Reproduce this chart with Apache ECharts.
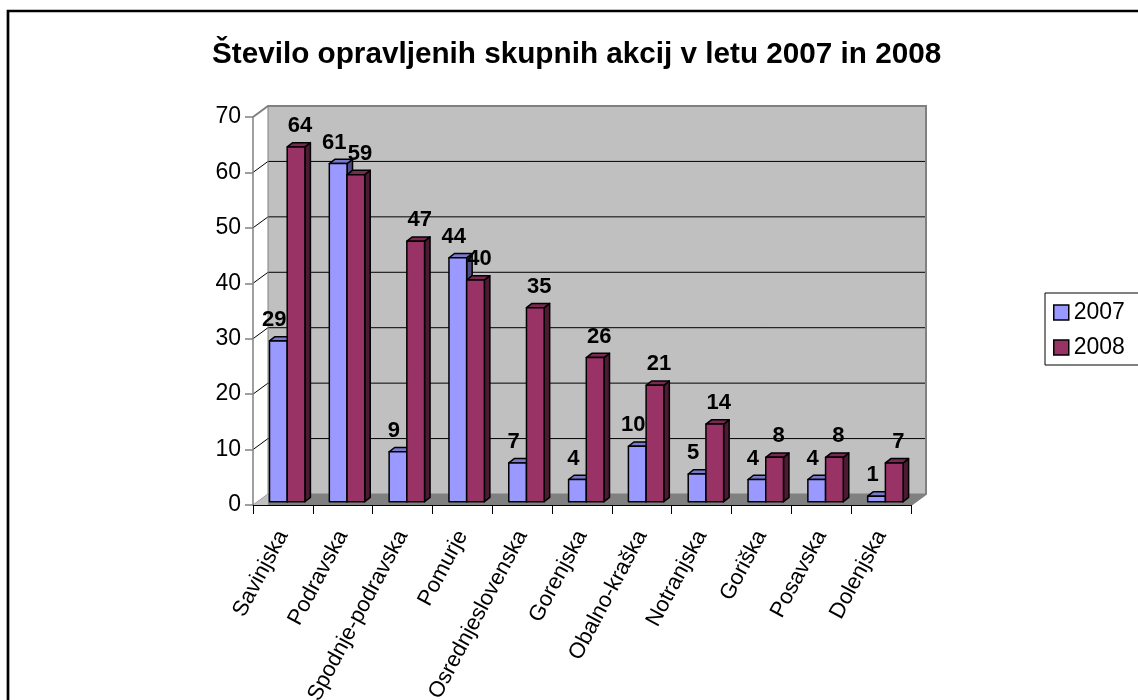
<!DOCTYPE html>
<html>
<head>
<meta charset="utf-8">
<script src="https://cdn.jsdelivr.net/npm/echarts@6/dist/echarts.min.js"></script>
<style>
html,body{margin:0;padding:0;background:#fff;}
#chart{width:1138px;height:700px;}
</style>
</head>
<body>
<div id="chart"></div>
<script>
const categories = ['Savinjska','Podravska','Spodnje-podravska','Pomurje','Osrednjeslovenska','Gorenjska','Obalno-kraška','Notranjska','Goriška','Posavska','Dolenjska'];
const values2007 = [29, 61, 9, 44, 7, 4, 10, 5, 4, 4, 1];
const values2008 = [64, 59, 47, 40, 35, 26, 21, 14, 8, 8, 7];
const seriesNames = ['2007', '2008'];
const yTicks = [0, 10, 20, 30, 40, 50, 60, 70];

const FONT = '"Liberation Sans", Arial, sans-serif';
const WALL = {x: 15, y: -11};
const BAR_OFF = {x: 4.3, y: -3.3};
const BAR_DEPTH = {x: 5.5, y: -4.3};
const faceColors = [
  {front: '#9999FF', side: '#4C4C80', top: '#7A7ACC'},
  {front: '#993366', side: '#4D1A33', top: '#7A2952'}
];

function barRender(si) {
  return function (params, api) {
    const idx = api.value(0), val = api.value(1);
    const base = api.coord([idx, 0]);
    const topP = api.coord([idx, val]);
    const cw = api.size([1, 0])[0];
    const bw = cw * 0.296;
    const x0 = base[0] + BAR_OFF.x - (si === 0 ? bw : 0);
    const y0 = base[1] + BAR_OFF.y;
    const y1 = topP[1] + BAR_OFF.y;
    const dx = BAR_DEPTH.x, dy = BAR_DEPTH.y;
    const c = faceColors[si];
    const stroke = {stroke: '#000', lineWidth: 1.5, lineJoin: 'round'};
    return {
      type: 'group',
      children: [
        {type: 'polygon', shape: {points: [[x0 + bw, y1], [x0 + bw + dx, y1 + dy], [x0 + bw + dx, y0 + dy], [x0 + bw, y0]]},
          style: Object.assign({fill: c.side}, stroke)},
        {type: 'polygon', shape: {points: [[x0, y1], [x0 + dx, y1 + dy], [x0 + bw + dx, y1 + dy], [x0 + bw, y1]]},
          style: Object.assign({fill: c.top}, stroke)},
        {type: 'rect', shape: {x: x0, y: y1, width: bw, height: y0 - y1},
          style: Object.assign({fill: c.front}, stroke)},
        {type: 'text', x: x0 + bw / 2 + (si === 0 ? -4 : 4), y: y1 - 21,
          style: {text: String(val), fill: '#000', font: 'bold 22px ' + FONT, align: 'center', verticalAlign: 'middle'}}
      ]
    };
  };
}

function wallRender(params, api) {
  const n = categories.length;
  const cw = api.size([1, 0])[0];
  const left = api.coord([0, 0])[0] - cw / 2;
  const right = api.coord([n - 1, 0])[0] + cw / 2;
  const yMin = yTicks[0], yMax = yTicks[yTicks.length - 1];
  const y0 = api.coord([0, yMin])[1];
  const yT = api.coord([0, yMax])[1];
  const bl = left + WALL.x, br = right + WALL.x;
  const children = [];
  children.push({type: 'rect', shape: {x: bl, y: yT + WALL.y, width: br - bl, height: y0 - yT},
    style: {fill: '#C0C0C0', stroke: 'none'}});
  children.push({type: 'polygon', shape: {points: [[left, y0], [right, y0], [br, y0 + WALL.y], [bl, y0 + WALL.y]]},
    style: {fill: '#808080', stroke: '#808080', lineWidth: 1}});
  children.push({type: 'polygon', shape: {points: [[left, y0], [bl, y0 + WALL.y], [bl, y0]]},
    style: {fill: '#C0C0C0', stroke: 'none'}});
  yTicks.forEach(function (t) {
    const y = api.coord([0, t])[1];
    if (t !== yMin && t !== yMax) {
      children.push({type: 'polyline', shape: {points: [[left, y], [bl, y + WALL.y], [br, y + WALL.y]]},
        style: {stroke: '#000', lineWidth: 1, fill: 'none'}});
    }
  });
  children.push({type: 'polyline', shape: {points: [[left, yT], [bl, yT + WALL.y], [br, yT + WALL.y], [br, y0 + WALL.y], [right, y0]]},
    style: {stroke: '#808080', lineWidth: 2, fill: 'none'}});
  children.push({type: 'line', shape: {x1: bl, y1: yT + WALL.y, x2: bl, y2: y0 + WALL.y},
    style: {stroke: '#808080', lineWidth: 1}});
  return {type: 'group', children: children};
}

const chart = echarts.init(document.getElementById('chart'));
chart.setOption({
  animation: false,
  backgroundColor: '#fff',
  title: {
    text: 'Število opravljenih skupnih akcij v letu 2007 in 2008',
    left: 207, top: 35,
    textStyle: {fontFamily: FONT, fontSize: 29.7, fontWeight: 'bold', color: '#000'}
  },
  legend: {
    data: seriesNames,
    orient: 'vertical',
    left: 1045, top: 293,
    padding: [8, 30, 6, 8],
    itemWidth: 15, itemHeight: 15, itemGap: 12,
    icon: 'rect',
    borderColor: '#000', borderWidth: 1,
    itemStyle: {borderColor: '#000', borderWidth: 1.5},
    textStyle: {fontFamily: FONT, fontSize: 23, color: '#000'}
  },
  graphic: [{
    type: 'rect', shape: {x: 8, y: 11, width: 1300, height: 900},
    style: {fill: 'none', stroke: '#000', lineWidth: 2.7}, z: 100
  }],
  grid: {left: 253, right: 227, top: 117, bottom: 195, containLabel: false, outerBoundsMode: 'none'},
  xAxis: {
    type: 'category', data: categories, z: 5,
    axisLine: {lineStyle: {color: '#000', width: 1}},
    axisTick: {show: true, length: 9, lineStyle: {color: '#000'}},
    axisLabel: {interval: 0, rotate: 62, margin: 27, fontFamily: FONT, fontSize: 22, color: '#000'},
    splitLine: {show: false}
  },
  yAxis: {
    type: 'value', min: yTicks[0], max: yTicks[yTicks.length - 1], interval: 10, z: 5,
    axisLine: {show: true, lineStyle: {color: '#808080', width: 1.5}},
    axisTick: {show: true, length: 8, lineStyle: {color: '#808080', width: 1.5}},
    axisLabel: {margin: 12, fontFamily: FONT, fontSize: 23, color: '#000'},
    splitLine: {show: false}
  },
  series: [
    {type: 'custom', name: 'walls', silent: true, z: 1, renderItem: wallRender, data: [[0, 0]], encode: {x: 0, y: 1}},
    {type: 'custom', name: seriesNames[0], z: 2, renderItem: barRender(0),
      itemStyle: {color: faceColors[0].front},
      data: values2007.map(function (v, i) { return [i, v]; }), encode: {x: 0, y: 1}},
    {type: 'custom', name: seriesNames[1], z: 3, renderItem: barRender(1),
      itemStyle: {color: faceColors[1].front},
      data: values2008.map(function (v, i) { return [i, v]; }), encode: {x: 0, y: 1}}
  ]
});
</script>
</body>
</html>
